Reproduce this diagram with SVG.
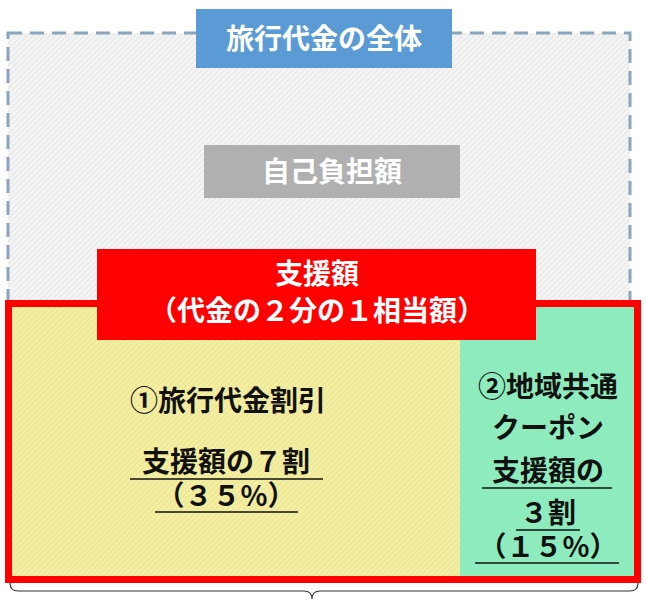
<svg xmlns="http://www.w3.org/2000/svg" width="646" height="602" viewBox="0 0 646 602">
<defs>
<pattern id="hg" width="4" height="4" patternUnits="userSpaceOnUse" patternTransform="rotate(45)"><rect width="4" height="4" fill="#f4f4f4"/><line x1="0" y1="0" x2="0" y2="4" stroke="#d6d6d6" stroke-width="1"/></pattern>
<pattern id="hy" width="4" height="4" patternUnits="userSpaceOnUse" patternTransform="rotate(45)"><rect width="4" height="4" fill="#f3eea0"/><line x1="0" y1="0" x2="0" y2="4" stroke="#e2d98a" stroke-width="1"/></pattern>
</defs>
<style>
text{font-family:"Noto Sans CJK JP",sans-serif;font-weight:bold;text-anchor:middle}
.w{fill:#fff;font-size:28px}
.b{fill:#111;font-size:28px}
.u{stroke:#111;stroke-width:1.5}
</style>
<rect x="0" y="0" width="646" height="602" fill="#fff"/>
<g id="whole">
<rect x="8" y="33" width="622" height="272" fill="url(#hg)" stroke="#8aa6bf" stroke-width="3" stroke-dasharray="14,8"/>
<rect x="196" y="9" width="256" height="59" fill="#5b9bd5"/>
<text class="w" x="324" y="49">旅行代金の全体</text>
</g>
<g id="self">
<rect x="204" y="145" width="256" height="53" fill="#b0b0b0"/>
<text class="w" x="332" y="182">自己負担額</text>
</g>
<g id="support">
<rect x="8.5" y="303.5" width="629" height="276" fill="url(#hy)" stroke="#f00" stroke-width="7"/>
<rect x="460" y="307" width="174" height="269" fill="#8eebbd"/>
<rect x="97" y="249" width="439" height="91" fill="#f00"/>
<text class="w" x="317" y="284">支援額</text>
<text class="w" x="317" y="321">（代金の２分の１相当額）</text>
</g>
<g id="discount">
<text class="b" x="228" y="411">①旅行代金割引</text>
<text class="b" x="226" y="472">支援額の７割</text>
<line class="u" x1="130" y1="479" x2="323" y2="479"/>
<text class="b" x="226" y="506">（３５%）</text>
<line class="u" x1="155" y1="512" x2="298" y2="512"/>
</g>
<g id="coupon">
<text class="b" x="548" y="397">②地域共通</text>
<text class="b" x="548" y="438">クーポン</text>
<text class="b" x="548" y="481">支援額の</text>
<line class="u" x1="482" y1="488" x2="612" y2="488"/>
<text class="b" x="548" y="523">３割</text>
<line class="u" x1="516" y1="530" x2="580" y2="530"/>
<text class="b" x="548" y="557">（１５%）</text>
<line class="u" x1="475" y1="563" x2="619" y2="563"/>
</g>
<g id="connectors">
<path d="M10,583 q0,8 8,8 H304 q8,0 8,8 q0,-8 8,-8 H630 q8,0 8,-8" fill="none" stroke="#333" stroke-width="1.2"/>
</g>
</svg>
